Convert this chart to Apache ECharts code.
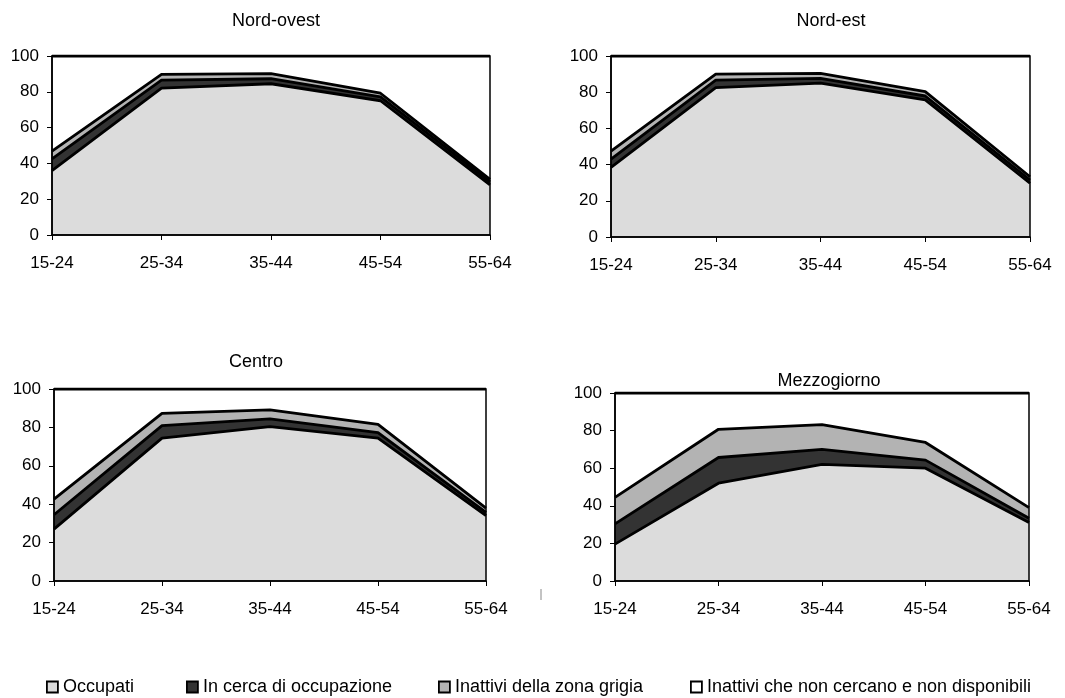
<!DOCTYPE html>
<html><head><meta charset="utf-8">
<script src="https://cdn.jsdelivr.net/npm/echarts@6/dist/echarts.min.js"></script>
<style>html,body{margin:0;padding:0;background:#fff}#c{width:1065px;height:698px}</style>
</head><body><div id="c"></div>
<script>
const categories = ['15-24','25-34','35-44','45-54','55-64'];
const yTicks = [0,20,40,60,80,100];
const seriesNames = ['Occupati','In cerca di occupazione','Inattivi della zona grigia','Inattivi che non cercano e non disponibili'];
const panelTitles = ['Nord-ovest','Nord-est','Centro','Mezzogiorno'];

// Nord-ovest
const nordOvestOccupati = [36, 82, 84.5, 75, 28];
const nordOvestCerca    = [6.5, 4.5, 2.8, 2.2, 1.7];
const nordOvestGrigia   = [4.3, 3.2, 2.8, 2.0, 1.4];
// Nord-est
const nordEstOccupati = [38.5, 82.5, 85, 75.8, 29.7];
const nordEstCerca    = [4.5, 4.2, 2.6, 2.1, 1.8];
const nordEstGrigia   = [4.4, 3.3, 2.8, 2.4, 1.8];
// Centro
const centroOccupati = [27, 74.4, 80.4, 74.4, 34];
const centroCerca    = [7.5, 6.5, 4.0, 2.9, 1.8];
const centroGrigia   = [8.1, 6.4, 4.7, 4.3, 2.2];
// Mezzogiorno
const mezzOccupati = [19.6, 52, 62, 60, 31.1];
const mezzCerca    = [10.8, 13.7, 8.0, 4.3, 2.3];
const mezzGrigia   = [14.1, 15.0, 13.2, 9.4, 5.6];

const panels = [
  [nordOvestOccupati, nordOvestCerca, nordOvestGrigia],
  [nordEstOccupati, nordEstCerca, nordEstGrigia],
  [centroOccupati, centroCerca, centroGrigia],
  [mezzOccupati, mezzCerca, mezzGrigia]
];

const colors = ['#dcdcdc','#333333','#b3b3b3','#ffffff'];
const FONT = 'Liberation Sans, Arial, sans-serif';

const grids = [
  {left:52, top:56, width:438, height:179},
  {left:611, top:56, width:419, height:181},
  {left:54, top:389, width:432, height:192},
  {left:615, top:393, width:414, height:188}
];

const option = {
  animation:false,
  backgroundColor:'#fff',
  grid: grids.map(g => Object.assign({show:true, z:5, backgroundColor:'transparent', borderColor:'#000', borderWidth:1.5}, g)),
  xAxis: grids.map((g,i) => ({
    type:'category', gridIndex:i, data:categories, boundaryGap:false,
    axisLine:{show:true, onZero:false, lineStyle:{color:'#000', width:1.5}},
    axisTick:{show:true, length:5, inside:false, interval:0, lineStyle:{color:'#000'}},
    axisLabel:{color:'#000', fontFamily:FONT, fontSize:17, margin:20, interval:0},
    splitLine:{show:false}, z:6
  })),
  yAxis: grids.map((g,i) => ({
    type:'value', gridIndex:i, min:0, max:100, interval:20,
    axisLine:{show:true, lineStyle:{color:'#000', width:1.5}},
    axisTick:{show:true, length:5, inside:false, lineStyle:{color:'#000'}},
    axisLabel:{color:'#000', fontFamily:FONT, fontSize:17, margin:13,
      formatter: v => yTicks.includes(v) ? String(v) : ''},
    splitLine:{show:false}, z:6
  })),
  legend: seriesNames.map((n,i) => ({
    data:[n], left:[46,186,438,690][i], top:678, padding:0, itemWidth:11, itemHeight:11, itemGap:6,
    icon:'rect', selectedMode:false,
    textStyle:{color:'#000', fontFamily:FONT, fontSize:18},
    itemStyle:{borderColor:'#000', borderWidth:1.8}
  })),
  series: [],
  graphic: [
    {type:'text', x:276, y:21, style:{text:panelTitles[0], font:'18px '+FONT, fill:'#000', textAlign:'center', textVerticalAlign:'middle'}},
    {type:'text', x:831, y:21, style:{text:panelTitles[1], font:'18px '+FONT, fill:'#000', textAlign:'center', textVerticalAlign:'middle'}},
    {type:'text', x:256, y:362, style:{text:panelTitles[2], font:'18px '+FONT, fill:'#000', textAlign:'center', textVerticalAlign:'middle'}},
    {type:'text', x:829, y:381, style:{text:panelTitles[3], font:'18px '+FONT, fill:'#000', textAlign:'center', textVerticalAlign:'middle'}},
    {type:'line', shape:{x1:541, y1:589, x2:541, y2:600}, style:{stroke:'#888', lineWidth:1}}
  ]
};

panels.forEach((p, gi) => {
  const rest = categories.map((c, k) => +(100 - p[0][k] - p[1][k] - p[2][k]).toFixed(2));
  const vals = [p[0], p[1], p[2], rest];
  vals.forEach((d, si) => {
    option.series.push({
      name: seriesNames[si], type:'line', xAxisIndex:gi, yAxisIndex:gi,
      stack:'s'+gi, data:d, symbol:'none', smooth:false,
      itemStyle:{color:colors[si], borderColor:'#000', borderWidth:1.8},
      lineStyle:{color:'#000', width:2.8},
      areaStyle:{color:colors[si], opacity:1},
      z: 2
    });
  });
});

const chart = echarts.init(document.getElementById('c'), null, {renderer:'canvas'});
chart.setOption(option);
</script></body></html>
